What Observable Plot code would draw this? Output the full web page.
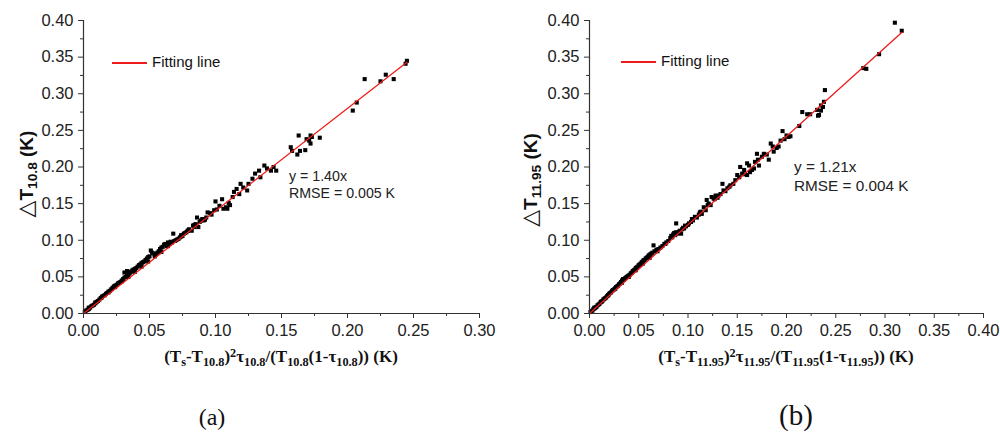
<!DOCTYPE html>
<html>
<head>
<meta charset="utf-8">
<script src="https://cdn.jsdelivr.net/npm/d3@7"></script>
<script src="https://cdn.jsdelivr.net/npm/@observablehq/plot@0.6"></script>
<style>
  html, body { margin: 0; padding: 0; background: #fff; }
  #wrap { position: relative; width: 1000px; height: 437px; overflow: hidden; background: #fff; }
  #wrap svg { position: absolute; top: 0; }
  .lbl { position: absolute; white-space: nowrap; color: #111; }
  .ylab { font-family: "Liberation Sans", Arial, sans-serif; font-weight: bold; font-size: 19px;
          transform: translate(-50%, -50%) rotate(-90deg); }
  .tri { font-family: "DejaVu Sans", sans-serif; font-weight: normal; font-size: 22px; }
  .xlab { font-family: "Liberation Serif", "Times New Roman", serif; font-weight: bold; font-size: 17px;
          transform: translate(-50%, -50%); }
  sub { font-size: 72%; vertical-align: -0.35em; line-height: 0; }
  sup { font-size: 72%; vertical-align: 0.45em; line-height: 0; }
  .leg { font-family: "Liberation Sans", Arial, sans-serif; font-size: 15px; }
  .legline { position: absolute; width: 35px; height: 1.5px; background: #f01a1a; }
  .ann { font-family: "Liberation Sans", Arial, sans-serif; color: #222; }
  .cap { font-family: "Liberation Serif", "Times New Roman", serif; transform: translate(-50%, 0); }
</style>
</head>
<body>
<div id="wrap"></div>
<script>
// ---------- Panel (a) data ----------
const xA = [0.001,0.002,0.003,0.004,0.005,0.006,0.007,0.008,0.009,0.010,0.011,0.012,0.013,0.014,0.015,0.016,0.017,0.018,0.019,0.020,
  0.021,0.022,0.023,0.024,0.025,0.026,0.027,0.028,0.029,0.030,0.031,0.032,0.033,0.034,0.035,0.036,0.031,0.033,0.037,0.038,
  0.039,0.040,0.041,0.042,0.043,0.044,0.045,0.046,0.047,0.048,0.049,0.050,0.051,0.052,0.053,0.054,0.055,0.056,0.057,0.058,
  0.059,0.060,0.061,0.062,0.063,0.064,0.065,0.066,0.068,0.067,0.069,0.070,0.071,0.072,0.073,0.074,0.075,0.076,0.077,0.078,
  0.079,0.080,0.082,0.083,0.084,0.085,0.086,0.087,0.088,0.089,0.090,0.091,0.092,0.093,0.094,0.096,0.099,0.100,0.103,0.105,
  0.106,0.108,0.109,0.111,0.113,0.114,0.116,0.118,0.119,0.121,0.124,0.125,0.128,0.130,0.133,0.134,0.137,0.139,0.142,0.144,
  0.146,0.157,0.158,0.162,0.164,0.163,0.168,0.169,0.171,0.172,0.172,0.173,0.179,0.204,0.207,0.213,0.225,0.229,0.235,0.244,0.245,
  0.004,0.009,0.014,0.019,0.024,0.029,0.034,0.039,0.044,0.049,0.054,0.059,0.064,0.069,0.074,0.079,0.084,0.097,0.101,0.110];
const yA = [0.002,0.004,0.005,0.006,0.008,0.010,0.011,0.012,0.014,0.016,0.017,0.019,0.021,0.022,0.024,0.025,0.027,0.028,0.030,0.031,
  0.033,0.035,0.037,0.038,0.039,0.041,0.042,0.043,0.045,0.047,0.049,0.050,0.052,0.054,0.055,0.057,0.056,0.058,0.059,0.060,
  0.061,0.062,0.064,0.066,0.067,0.069,0.070,0.071,0.073,0.075,0.077,0.078,0.086,0.083,0.082,0.080,0.081,0.083,0.085,0.088,
  0.090,0.091,0.094,0.095,0.092,0.097,0.095,0.098,0.109,0.097,0.099,0.100,0.101,0.102,0.104,0.105,0.106,0.109,0.110,0.111,
  0.113,0.115,0.113,0.120,0.118,0.122,0.131,0.118,0.125,0.127,0.129,0.127,0.128,0.131,0.138,0.137,0.141,0.153,0.147,0.156,
  0.143,0.145,0.143,0.148,0.159,0.166,0.170,0.163,0.177,0.172,0.168,0.177,0.184,0.191,0.195,0.186,0.202,0.198,0.195,0.200,
  0.195,0.227,0.222,0.217,0.222,0.243,0.223,0.238,0.236,0.232,0.243,0.241,0.240,0.277,0.288,0.320,0.317,0.326,0.320,0.341,0.345,
  0.008,0.015,0.023,0.029,0.036,0.044,0.050,0.057,0.064,0.071,0.078,0.084,0.092,0.099,0.107,0.113,0.121,0.135,0.142,0.151];
const fitA = { slope: 1.40, xEnd: 0.245 };

// ---------- Panel (b) data ----------
const xB = [0.001,0.002,0.003,0.004,0.005,0.006,0.007,0.008,0.009,0.010,0.011,0.012,0.013,0.014,0.015,0.016,0.017,0.018,0.019,0.020,
  0.021,0.022,0.023,0.024,0.025,0.026,0.027,0.028,0.029,0.030,0.031,0.032,0.033,0.034,0.035,0.036,0.037,0.038,0.039,0.040,
  0.041,0.042,0.043,0.044,0.045,0.046,0.047,0.048,0.049,0.050,0.051,0.052,0.053,0.054,0.055,0.056,0.057,0.058,0.059,0.060,
  0.061,0.062,0.063,0.065,0.064,0.066,0.068,0.070,0.072,0.074,0.076,0.078,0.080,0.082,0.083,0.084,0.085,0.086,0.087,0.088,
  0.088,0.089,0.090,0.091,0.092,0.093,0.094,0.095,0.096,0.098,0.100,0.101,0.103,0.105,0.107,0.109,0.111,0.113,0.114,0.116,
  0.118,0.119,0.120,0.121,0.123,0.124,0.126,0.128,0.130,0.131,0.133,0.135,0.136,0.138,0.140,0.143,0.146,0.148,0.150,0.153,
  0.155,0.157,0.158,0.160,0.160,0.162,0.163,0.165,0.167,0.168,0.170,0.172,0.175,0.177,0.180,0.182,0.184,0.187,0.190,0.192,
  0.194,0.196,0.198,0.202,0.204,0.213,0.216,0.221,0.224,0.231,0.232,0.233,0.235,0.235,0.237,0.238,0.239,0.278,0.281,0.294,
  0.310,0.317,
  0.005,0.012,0.019,0.026,0.033,0.040,0.047,0.054,0.061,0.069,0.077,0.097,0.104,0.112,0.127,0.142,0.152,0.171,0.186,0.200];
const yB = [0.002,0.003,0.004,0.006,0.007,0.008,0.009,0.011,0.012,0.013,0.015,0.016,0.017,0.019,0.020,0.021,0.022,0.024,0.025,0.027,
  0.028,0.029,0.031,0.032,0.033,0.034,0.036,0.037,0.038,0.040,0.041,0.043,0.045,0.047,0.046,0.048,0.049,0.050,0.051,0.052,
  0.053,0.055,0.056,0.058,0.059,0.060,0.062,0.063,0.064,0.066,0.067,0.068,0.070,0.071,0.073,0.073,0.075,0.076,0.077,0.079,
  0.080,0.081,0.082,0.093,0.083,0.085,0.087,0.088,0.090,0.092,0.095,0.097,0.099,0.103,0.106,0.104,0.108,0.110,0.107,0.123,
  0.111,0.109,0.110,0.112,0.113,0.109,0.115,0.117,0.116,0.119,0.121,0.123,0.125,0.127,0.132,0.131,0.135,0.139,0.136,0.145,
  0.141,0.155,0.148,0.150,0.148,0.159,0.157,0.161,0.158,0.161,0.163,0.177,0.168,0.167,0.171,0.175,0.177,0.182,0.189,0.200,
  0.191,0.196,0.190,0.205,0.189,0.202,0.193,0.196,0.198,0.207,0.218,0.202,0.214,0.218,0.217,0.210,0.232,0.221,0.226,0.228,
  0.236,0.249,0.238,0.241,0.242,0.256,0.275,0.272,0.272,0.278,0.270,0.271,0.284,0.277,0.282,0.289,0.305,0.335,0.334,0.354,
  0.397,0.386,
  0.008,0.016,0.025,0.034,0.042,0.050,0.059,0.068,0.076,0.085,0.095,0.120,0.129,0.138,0.156,0.173,0.186,0.210,0.228,0.243];
const fitB = { slope: 1.21, xEnd: 0.317 };

// ---------- Axes ticks ----------
const yTicks = [0, 0.05, 0.10, 0.15, 0.20, 0.25, 0.30, 0.35, 0.40];
const xTicksA = [0, 0.05, 0.10, 0.15, 0.20, 0.25, 0.30];
const xTicksB = [0, 0.05, 0.10, 0.15, 0.20, 0.25, 0.30, 0.35, 0.40];
const minor = (ticks) => ticks.slice(0, -1).map((t, i) => (t + ticks[i + 1]) / 2);

const fmt = d3.format(".2f");
const axisColor = "#333";

function panel(xs, ys, fit, xTicks, opts) {
  const pts = xs.map((x, i) => ({ x, y: ys[i] }));
  const line = [{ x: 0, y: 0 }, { x: fit.xEnd, y: fit.slope * fit.xEnd }];
  const xMax = xTicks[xTicks.length - 1];
  return Plot.plot({
    width: 500,
    height: 437,
    marginLeft: opts.ml,
    marginRight: opts.mr,
    marginTop: 20,
    marginBottom: 124,
    style: { fontFamily: "'Liberation Sans', Arial, sans-serif", fontSize: "16.5px", color: "#222", background: "transparent" },
    x: { domain: [0, xMax] },
    y: { domain: [0, 0.4] },
    marks: [
      Plot.dot(pts, { x: "x", y: "y", symbol: "square", r: 2.3, fill: "#000", stroke: null }),
      Plot.line(line, { x: "x", y: "y", stroke: "#f01a1a", strokeWidth: 1.3 }),
      Plot.axisY({ ticks: yTicks, tickFormat: fmt, tickSize: 5, tickPadding: 5, stroke: axisColor, label: null }),
      Plot.axisY({ ticks: minor(yTicks), tickFormat: () => "", tickSize: 3, stroke: axisColor, label: null }),
      Plot.axisX({ ticks: xTicks, tickFormat: fmt, tickSize: 5, tickPadding: 6, stroke: axisColor, label: null }),
      Plot.axisX({ ticks: minor(xTicks), tickFormat: () => "", tickSize: 3, stroke: axisColor, label: null }),
      Plot.ruleX([0], { stroke: axisColor, strokeWidth: 1.2 }),
      Plot.ruleY([0], { stroke: axisColor, strokeWidth: 1.2 })
    ]
  });
}

const wrap = document.getElementById("wrap");
const pA = panel(xA, yA, fitA, xTicksA, { ml: 83, mr: 21 });
pA.style.left = "0px";
wrap.appendChild(pA);
const pB = panel(xB, yB, fitB, xTicksB, { ml: 89, mr: 17 });
pB.style.left = "500px";
wrap.appendChild(pB);

// ---------- Text overlays ----------
function add(html, cls, style) {
  const d = document.createElement("div");
  d.className = "lbl " + cls;
  d.innerHTML = html;
  Object.assign(d.style, style);
  wrap.appendChild(d);
  return d;
}
// y labels
add("<span class='tri'>△</span>T<sub>10.8</sub> (K)", "ylab", { left: "25px", top: "174px" });
add("<span class='tri'>△</span>T<sub>11.95</sub> (K)", "ylab", { left: "529px", top: "180px" });
// x labels
add("(T<sub>s</sub>-T<sub>10.8</sub>)<sup>2</sup>τ<sub>10.8</sub>/(T<sub>10.8</sub>(1-τ<sub>10.8</sub>)) (K)", "xlab", { left: "281px", top: "357px" });
add("(T<sub>s</sub>-T<sub>11.95</sub>)<sup>2</sup>τ<sub>11.95</sub>/(T<sub>11.95</sub>(1-τ<sub>11.95</sub>)) (K)", "xlab", { left: "786px", top: "357px" });
// legends
function legend(x, y) {
  const l = document.createElement("div");
  l.className = "legline";
  Object.assign(l.style, { left: x + "px", top: y + "px" });
  wrap.appendChild(l);
  add("Fitting line", "leg", { left: (x + 40) + "px", top: (y - 9) + "px" });
}
legend(112, 62);
legend(621, 61);
// annotations
add("y = 1.40x<br>RMSE = 0.005 K", "ann", { left: "289px", top: "168px", fontSize: "14.2px", lineHeight: "17px" });
add("y = 1.21x<br>RMSE = 0.004 K", "ann", { left: "794px", top: "157px", fontSize: "15.3px", lineHeight: "19px" });
// captions
add("(a)", "cap", { left: "212px", top: "404px", fontSize: "24px" });
add("(b)", "cap", { left: "796px", top: "399px", fontSize: "29px" });
</script>
</body>
</html>
